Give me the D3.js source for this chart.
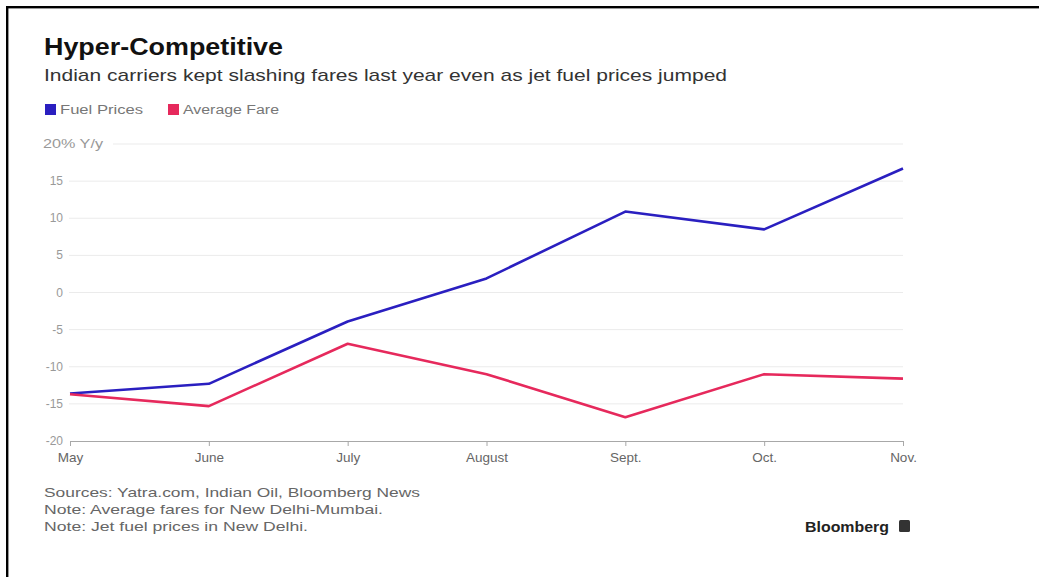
<!DOCTYPE html>
<html>
<head>
<meta charset="utf-8">
<script src="https://cdn.jsdelivr.net/npm/d3@7"></script>
<style>
  html, body { margin: 0; padding: 0; background: #fff; }
  svg { display: block; font-family: "Liberation Sans", Arial, Helvetica, sans-serif; }
</style>
</head>
<body>
<svg id="chart" width="1039" height="577"></svg>
<script>
// Year-over-year change, percent
const months = ["May", "June", "July", "August", "Sept.", "Oct.", "Nov."];
const fuelPrices = [-13.6, -12.3, -3.9, 1.9, 10.9, 8.5, 16.7];
const averageFare = [-13.7, -15.3, -6.9, -11.0, -16.8, -11.0, -11.6];
const yTicks = [20, 15, 10, 5, 0, -5, -10, -15, -20];
const seriesNames = ["Fuel Prices", "Average Fare"];
const seriesColors = ["#2a1fc0", "#e6295c"];
const footnotes = [
  "Sources: Yatra.com, Indian Oil, Bloomberg News",
  "Note: Average fares for New Delhi-Mumbai.",
  "Note: Jet fuel prices in New Delhi."
];

const svg = d3.select("#chart");

// frame edges
svg.append("rect").attr("x", 6).attr("y", 6).attr("width", 1033).attr("height", 2.4).attr("fill", "#000");
svg.append("rect").attr("x", 6).attr("y", 6).attr("width", 2.4).attr("height", 571).attr("fill", "#000");

// headings
svg.append("text").attr("x", 44).attr("y", 55)
  .attr("font-size", 23).attr("font-weight", "bold").attr("fill", "#111")
  .attr("textLength", 239).attr("lengthAdjust", "spacingAndGlyphs")
  .text("Hyper-Competitive");
svg.append("text").attr("x", 44).attr("y", 81)
  .attr("font-size", 17).attr("fill", "#333")
  .attr("textLength", 683).attr("lengthAdjust", "spacingAndGlyphs")
  .text("Indian carriers kept slashing fares last year even as jet fuel prices jumped");

// legend
const legendX = [45, 168];
const legendW = [83, 96];
seriesNames.forEach((name, i) => {
  svg.append("rect").attr("x", legendX[i]).attr("y", 104).attr("width", 11).attr("height", 11)
    .attr("fill", seriesColors[i]);
  svg.append("text").attr("x", legendX[i] + 15).attr("y", 114)
    .attr("font-size", 12).attr("fill", "#777")
    .attr("textLength", legendW[i]).attr("lengthAdjust", "spacingAndGlyphs")
    .text(name);
});

// scales
const x = d3.scalePoint().domain(months).range([70, 903]);
const y = d3.scaleLinear().domain([-20, 20]).range([441, 144]);

// gridlines
const grid = svg.append("g");
yTicks.filter(t => t > -20).forEach(t => {
  grid.append("line")
    .attr("x1", t === 20 ? 113 : 69).attr("x2", 903)
    .attr("y1", y(t)).attr("y2", y(t))
    .attr("stroke", "#ebebeb").attr("stroke-width", 1);
});

// y tick labels
const yLab = svg.append("g").attr("font-size", 12).attr("fill", "#999");
yTicks.forEach(t => {
  if (t === 20) {
    yLab.append("text").attr("x", 43).attr("y", y(t) + 4)
      .attr("textLength", 60).attr("lengthAdjust", "spacingAndGlyphs")
      .text("20% Y/y");
  } else {
    yLab.append("text").attr("x", 63).attr("y", y(t) + 4)
      .attr("text-anchor", "end").text(String(t));
  }
});

// x axis
const xAxis = svg.append("g").attr("transform", `translate(0,${y(-20)})`)
  .call(d3.axisBottom(x).tickSize(5).tickPadding(6).tickSizeOuter(0));
xAxis.select(".domain").attr("stroke", "#a8a8a8").attr("stroke-width", 1.2);
xAxis.selectAll(".tick line").attr("stroke", "#a8a8a8");
xAxis.selectAll(".tick text")
  .attr("font-size", 13.5).attr("fill", "#666")
  .attr("font-family", "\"Liberation Sans\", Arial, sans-serif");

// series lines
const line = d3.line().x((d, i) => x(months[i])).y(d => y(d));
[fuelPrices, averageFare].forEach((vals, i) => {
  svg.append("path").datum(vals)
    .attr("d", line)
    .attr("fill", "none")
    .attr("stroke", seriesColors[i])
    .attr("stroke-width", 2.6)
    .attr("stroke-linejoin", "round");
});

// footnotes
const footW = [376, 339, 264];
footnotes.forEach((t, i) => {
  svg.append("text").attr("x", 44).attr("y", 497 + i * 17)
    .attr("font-size", 13).attr("fill", "#666")
    .attr("textLength", footW[i]).attr("lengthAdjust", "spacingAndGlyphs")
    .text(t);
});

// wordmark
svg.append("text").attr("x", 805).attr("y", 532)
  .attr("font-size", 14).attr("font-weight", "bold").attr("fill", "#222")
  .attr("textLength", 84).attr("lengthAdjust", "spacingAndGlyphs")
  .text("Bloomberg");
svg.append("rect").attr("x", 899).attr("y", 520).attr("width", 11).attr("height", 12)
  .attr("rx", 1.5).attr("fill", "#333");
</script>
</body>
</html>
